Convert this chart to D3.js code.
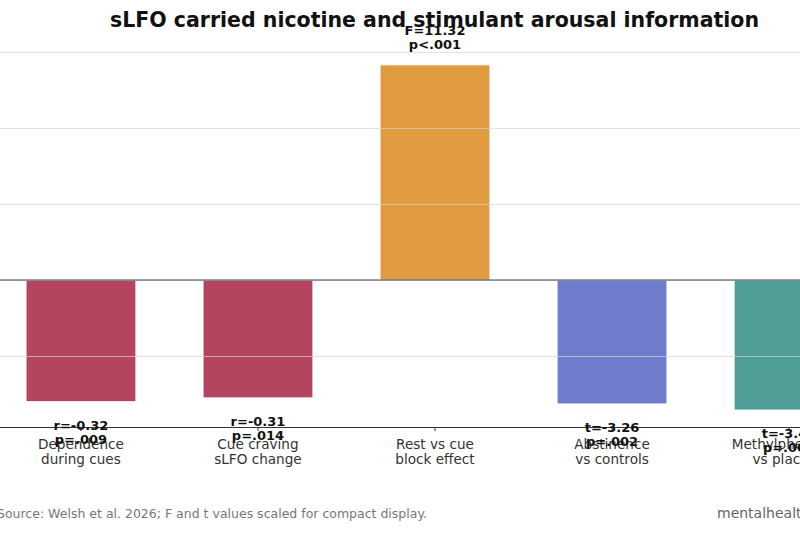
<!DOCTYPE html>
<html>
<head>
<meta charset="utf-8">
<script src="https://cdn.jsdelivr.net/npm/d3@7"></script>
<style>
  body { margin: 0; background: #fff; }
  svg { display: block; font-family: "DejaVu Sans", sans-serif; }
</style>
</head>
<body>
<div id="chart-area"></div>
<script>
// data (F and t scaled for display)
const categories = [
    ["Dependence", "during cues"],
    ["Cue craving", "sLFO change"],
    ["Rest vs cue", "block effect"],
    ["Abstinence", "vs controls"],
    ["Methylphenidate", "vs placebo"]
]
const values = [-1.60, -1.55, 2.83, -1.63, -1.71]
const statLabels = ["r=-0.32", "r=-0.31", "F=11.32", "t=-3.26", "t=-3.42"]
const pLabels = ["p=.009", "p=.014", "p<.001", "p=.002", "p=.001"]
const yTicks = [-1, 0, 1, 2, 3]

const barColors = ["#b5445f", "#b5445f", "#e09b40", "#6f7bcc", "#4f9e96"]

const WIDTH = 800
const HEIGHT = 533
const PLOT = { LEFT: -14.8, RIGHT: 884.8, TOP: 47.4, BOTTOM: 427 }

const svg = d3.select("#chart-area").append("svg")
    .attr("width", WIDTH)
    .attr("height", HEIGHT)

svg.append("rect")
    .attr("width", WIDTH)
    .attr("height", HEIGHT)
    .attr("fill", "#fff")

const keys = categories.map(c => c.join(" "))

const x = d3.scaleBand()
    .domain(keys)
    .range([PLOT.LEFT, PLOT.RIGHT])
    .paddingInner(0.38)
    .paddingOuter(0.231)

const y = d3.scaleLinear()
    .domain([-1.934, 3.06])
    .range([PLOT.BOTTOM, PLOT.TOP])

const g = svg.append("g")

// bars
g.selectAll("rect.bar").data(values).enter().append("rect")
    .attr("class", "bar")
    .attr("x", (d, i) => x(keys[i]))
    .attr("width", x.bandwidth())
    .attr("y", d => y(Math.max(0, d)))
    .attr("height", d => Math.abs(y(d) - y(0)))
    .attr("fill", (d, i) => barColors[i])
    .attr("stroke", "#fff")
    .attr("stroke-width", 0.8)

// gridlines over the bars (the y tick labels sit off the left edge, so none drawn)
const yAxis = d3.axisLeft(y).tickValues(yTicks)
    .tickSize(-(PLOT.RIGHT - PLOT.LEFT))
    .tickFormat("")
g.append("g")
    .attr("class", "grid")
    .attr("transform", `translate(${PLOT.LEFT}, 0)`)
    .call(yAxis)
    .call(s => s.select(".domain").remove())
    .call(s => s.selectAll("line")
        .attr("stroke", "#d4d4d4")
        .attr("stroke-opacity", 0.7)
        .attr("stroke-width", 1))

// zero line
g.append("line")
    .attr("x1", PLOT.LEFT).attr("x2", PLOT.RIGHT)
    .attr("y1", y(0)).attr("y2", y(0))
    .attr("stroke", "#3f4655")
    .attr("stroke-width", 1.2)

// x axis
const xAxis = d3.axisBottom(x).tickSize(4).tickFormat("")
const xg = g.append("g")
    .attr("transform", `translate(0, ${PLOT.BOTTOM})`)
    .call(xAxis)
xg.select(".domain").attr("stroke", "#333").attr("stroke-width", 1.2)
xg.selectAll(".tick line").attr("stroke", "#333").attr("stroke-width", 1)

const catText = g.selectAll("text.cat").data(categories).enter().append("text")
    .attr("class", "cat")
    .attr("text-anchor", "middle")
    .attr("font-size", "13.6px")
    .attr("fill", "#333")
catText.selectAll("tspan").data((d, i) => d.map(t => ({ t, i }))).enter().append("tspan")
    .attr("x", d => x(keys[d.i]) + x.bandwidth() / 2)
    .attr("y", (d, j) => PLOT.BOTTOM + 22 + j * 15)
    .text(d => d.t)

// value labels
values.forEach((v, i) => {
    const cx = x(keys[i]) + x.bandwidth() / 2
    const base = v >= 0 ? y(v) - 30 : y(v) + 28
    g.append("text")
        .attr("x", cx).attr("y", base)
        .attr("text-anchor", "middle")
        .attr("font-size", "13px")
        .attr("font-weight", "bold")
        .attr("fill", "#111")
        .text(statLabels[i])
    g.append("text")
        .attr("x", cx).attr("y", base + 14)
        .attr("text-anchor", "middle")
        .attr("font-size", "13px")
        .attr("font-weight", "bold")
        .attr("fill", "#111")
        .text(pLabels[i])
})

// title
svg.append("text")
    .attr("x", 434.5)
    .attr("y", 27)
    .attr("text-anchor", "middle")
    .attr("font-size", "20.5px")
    .attr("font-weight", "bold")
    .attr("fill", "#111")
    .text("sLFO carried nicotine and stimulant arousal information")

// footer
svg.append("text")
    .attr("x", -3)
    .attr("y", 518)
    .attr("font-size", "12.5px")
    .attr("fill", "#777")
    .text("Source: Welsh et al. 2026; F and t values scaled for compact display.")

svg.append("text")
    .attr("x", 717)
    .attr("y", 518)
    .attr("font-size", "14px")
    .attr("fill", "#666")
    .text("mentalhealthdaily.com")
</script>
</body>
</html>
